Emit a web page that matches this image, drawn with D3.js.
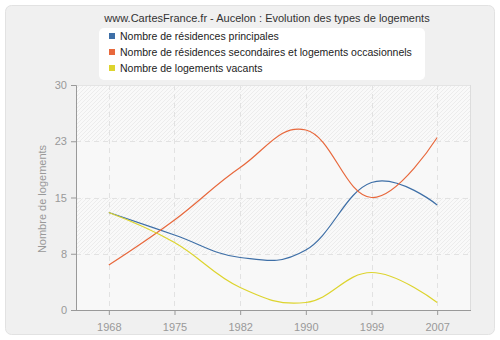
<!DOCTYPE html>
<html>
<head>
<meta charset="utf-8">
<script src="https://cdn.jsdelivr.net/npm/d3@7"></script>
<style>
  body { margin: 0; background: #fff; }
  svg { display: block; font-family: "Liberation Sans", Arial, sans-serif; }
</style>
</head>
<body>
<svg id="chart" width="500" height="340"></svg>
<script>
// data
var years = ["1968", "1975", "1982", "1990", "1999", "2007"];
var principales = [13, 10, 7, 8, 17, 14];
var secondaires = [6, 12, 19, 24, 15, 23];
var vacants = [13, 9, 3, 1, 5, 1];
var yTicks = [0, 7.5, 15, 22.5, 30];
var seriesNames = [
    "Nombre de résidences principales",
    "Nombre de résidences secondaires et logements occasionnels",
    "Nombre de logements vacants"
];
var seriesColors = ["#3e6fa7", "#e8683c", "#ddd42e"];

var margin = { top: 85, right: 30, bottom: 30, left: 76 };
var width = 470 - margin.left;
var height = 310 - margin.top;
var font = "'Liberation Sans', Arial, sans-serif";

var svg = d3.select("#chart");

// outer panel
svg.append("rect")
   .attr("x", 5.5).attr("y", 5.5)
   .attr("width", 489).attr("height", 329)
   .attr("rx", 6)
   .attr("fill", "#f0f0f0")
   .attr("stroke", "#e2e2e2");

// hatch pattern
var defs = svg.append("defs");
var pat = defs.append("pattern")
   .attr("id", "hatch")
   .attr("patternUnits", "userSpaceOnUse")
   .attr("width", 4).attr("height", 4);
pat.append("rect").attr("width", 4).attr("height", 4).attr("fill", "#f9f9f9");
pat.append("path")
   .attr("d", "M-1,1 l2,-2 M0,4 l4,-4 M3,5 l2,-2")
   .attr("stroke", "#e9e9e9")
   .attr("stroke-width", 0.8);

var xScale = d3.scalePoint().domain(years).range([0, width]).padding(0.5);
var yScale = d3.scaleLinear().domain([0, 30]).range([height, 0]);

var g = svg.append("g").attr("transform", `translate(${margin.left}, ${margin.top})`);

// background bands
g.append("rect").attr("width", width).attr("height", height).attr("fill", "#fafafa");
for (var i = 0; i < yTicks.length - 1; i++) {
    g.append("rect")
     .attr("x", 0)
     .attr("y", yScale(yTicks[i + 1]))
     .attr("width", width)
     .attr("height", yScale(yTicks[i]) - yScale(yTicks[i + 1]))
     .attr("fill", i % 2 == 1 ? "url(#hatch)" : "#f8f8f8");
}

// grid
g.selectAll(".hgrid")
 .data(yTicks.slice(1))
 .join("line")
 .attr("x1", 0).attr("x2", width)
 .attr("y1", d => Math.round(yScale(d)) + 0.5)
 .attr("y2", d => Math.round(yScale(d)) + 0.5)
 .attr("stroke", "#e2e2e2")
 .attr("stroke-dasharray", "5,4");

g.selectAll(".vgrid")
 .data(years)
 .join("line")
 .attr("x1", d => Math.round(xScale(d)) + 0.5)
 .attr("x2", d => Math.round(xScale(d)) + 0.5)
 .attr("y1", 0).attr("y2", height)
 .attr("stroke", "#e2e2e2")
 .attr("stroke-dasharray", "5,4");

// plot border
g.append("line")
 .attr("x1", width + 0.5).attr("x2", width + 0.5)
 .attr("y1", 0).attr("y2", height)
 .attr("stroke", "#dddddd");
g.append("line")
 .attr("x1", 0).attr("x2", width)
 .attr("y1", 0.5).attr("y2", 0.5)
 .attr("stroke", "#e4e4e4");

// axes
var xAxis = g.append("g")
 .attr("transform", `translate(0, ${height})`)
 .call(d3.axisBottom(xScale).tickSizeOuter(0).tickSize(5).tickPadding(8));
var yAxis = g.append("g")
 .call(d3.axisLeft(yScale).tickValues(yTicks).tickFormat(d => Math.round(d)).tickSizeOuter(0).tickSize(5).tickPadding(4));

[xAxis, yAxis].forEach(function(ax){
    ax.select(".domain").attr("stroke", "#999").attr("stroke-width", 1);
    ax.selectAll(".tick line").attr("stroke", "#999");
    ax.selectAll("text").attr("fill", "#999").style("font-size", "11px")
      .style("font-family", font);
});
xAxis.select(".domain").attr("d", `M0,0.5H${width + 1}`);

// spline like the original (control arms 0.4 of a step, no clamping)
function splinePath(values){
    var pts = values.map((v, i) => [xScale(years[i]), yScale(v)]);
    var sm = 1.5, den = sm + 1;
    var ctrl = pts.map(function(pt, i){
        if (i == 0 || i == pts.length - 1) return null;
        var lx = pts[i-1][0], ly = pts[i-1][1], x = pt[0], y = pt[1], nx = pts[i+1][0], ny = pts[i+1][1];
        var lcx = (sm * x + lx) / den, lcy = (sm * y + ly) / den;
        var rcx = (sm * x + nx) / den, rcy = (sm * y + ny) / den;
        var corr = ((rcy - lcy) * (rcx - x)) / (rcx - lcx) + y - rcy;
        return { lcx: lcx, lcy: lcy + corr, rcx: rcx, rcy: rcy + corr };
    });
    var p = d3.path();
    p.moveTo(pts[0][0], pts[0][1]);
    for (var i = 1; i < pts.length; i++){
        var a = ctrl[i-1], b = ctrl[i];
        p.bezierCurveTo(a ? a.rcx : pts[i-1][0], a ? a.rcy : pts[i-1][1],
                        b ? b.lcx : pts[i][0], b ? b.lcy : pts[i][1],
                        pts[i][0], pts[i][1]);
    }
    return p.toString();
}

[principales, secondaires, vacants].forEach(function(s, i){
    g.append("path")
     .datum(s)
     .attr("d", splinePath)
     .attr("fill", "none")
     .attr("stroke", seriesColors[i])
     .attr("stroke-width", 1.2);
});

// y label
svg.append("text")
   .attr("transform", "translate(46, 199) rotate(-90)")
   .attr("text-anchor", "middle")
   .style("font-size", "11px")
   .style("font-family", font)
   .attr("fill", "#999")
   .text("Nombre de logements");

// title
svg.append("text")
   .attr("x", 267).attr("y", 22)
   .attr("text-anchor", "middle")
   .style("font-size", "11px")
   .style("font-family", font)
   .attr("fill", "#333")
   .text("www.CartesFrance.fr - Aucelon : Evolution des types de logements");

// legend
var legend = svg.append("g");
legend.append("rect")
   .attr("x", 99).attr("y", 28)
   .attr("width", 326).attr("height", 52)
   .attr("rx", 5)
   .attr("fill", "#fff");
seriesNames.forEach(function(name, i){
    legend.append("rect")
       .attr("x", 109).attr("y", 33 + i * 16)
       .attr("width", 6).attr("height", 6)
       .attr("fill", seriesColors[i]);
    legend.append("text")
       .attr("x", 120).attr("y", 40 + i * 16)
       .style("font-size", "10.5px")
       .style("font-family", font)
       .attr("fill", "#222")
       .text(name);
});
</script>
</body>
</html>
